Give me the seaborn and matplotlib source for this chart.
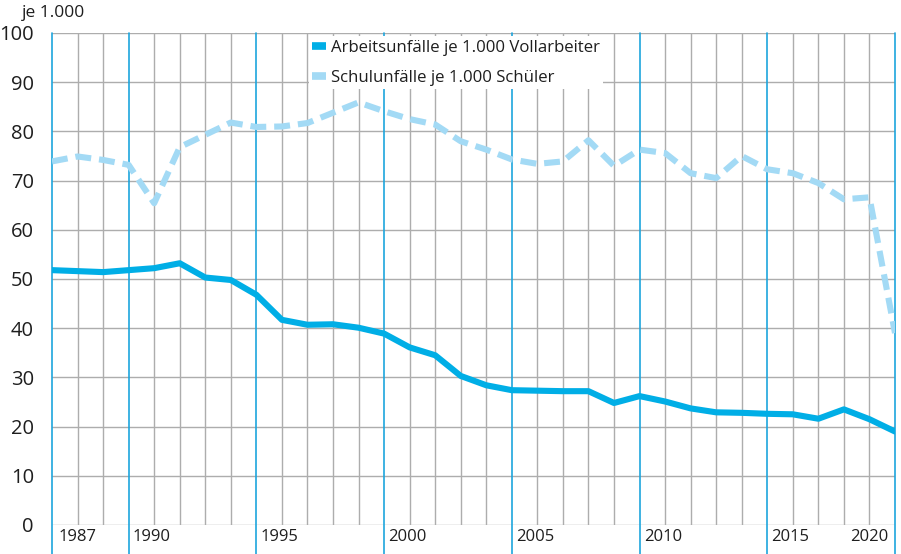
import numpy as np
import pandas as pd
import matplotlib
matplotlib.use("Agg")
import matplotlib.pyplot as plt
import matplotlib.transforms as mtransforms
from matplotlib.lines import Line2D
import seaborn as sns

# =========================
# 1. DATEN
# =========================
jahre = list(range(1987, 2021))
arbeitsunfaelle = [51.8, 51.6, 51.4, 51.8, 52.2, 53.2, 50.3, 49.8, 46.8, 41.7,
                   40.7, 40.8, 40.1, 38.9, 36.1, 34.5, 30.3, 28.4, 27.4, 27.3,
                   27.2, 27.2, 24.8, 26.2, 25.1, 23.7, 22.9, 22.8, 22.6, 22.5,
                   21.6, 23.5, 21.5, 19.0]
schulunfaelle = [73.9, 74.9, 74.2, 73.2, 65.4, 76.8, 79.3, 81.8, 80.9, 81.0,
                 81.7, 83.8, 85.9, 84.1, 82.5, 81.4, 78.0, 76.3, 74.3, 73.4,
                 73.9, 78.2, 73.0, 76.3, 75.6, 71.5, 70.5, 75.0, 72.3, 71.5,
                 69.5, 66.2, 66.6, 39.0]
serien = ["Arbeitsunfälle je 1.000 Vollarbeiter", "Schulunfälle je 1.000 Schüler"]
x_labels = ["1987", "1990", "1995", "2000", "2005", "2010", "2015", "2020"]
y_ticks = list(range(0, 101, 10))

FARBE_ARBEIT = "#00aee6"
FARBE_SCHUL = "#a3daf5"
FARBE_BLAU = "#1ea5dd"
FARBE_GRAU = "#adadad"
FARBE_TEXT = "#1e1e1e"

df = pd.DataFrame({
    "Jahr": jahre * 2,
    "Wert": arbeitsunfaelle + schulunfaelle,
    "Serie": [serien[0]] * len(jahre) + [serien[1]] * len(jahre),
})

# =========================
# 2. PLOT
# =========================
sns.set_style("white")
plt.rcParams["font.family"] = ["Open Sans", "DejaVu Sans"]

fig = plt.figure(figsize=(9.01, 5.54), dpi=100)
ax = fig.add_axes([52 / 901, 29 / 554, 843 / 901, 492 / 554])

# Gitter
ax.set_xticks(jahre, minor=True)
ax.grid(which="minor", axis="x", color=FARBE_GRAU, linewidth=1)
ax.set_yticks(y_ticks)
ax.grid(which="major", axis="y", color=FARBE_GRAU, linewidth=1)
ax.set_axisbelow(True)

haupt_jahre = [int(j) for j in x_labels]
for j in haupt_jahre:
    ax.axvline(j, ymin=-29 / 492, ymax=1, color=FARBE_BLAU, linewidth=1.2,
               clip_on=False, zorder=1)

sns.lineplot(
    data=df, x="Jahr", y="Wert", hue="Serie", style="Serie",
    palette={serien[0]: FARBE_ARBEIT, serien[1]: FARBE_SCHUL},
    dashes={serien[0]: "", serien[1]: (2.6, 1.3)},
    linewidth=4.4, ax=ax, legend=False, zorder=3,
)

ax.set_xlim(1987, 2020)
ax.set_ylim(0, 100)
ax.set_xlabel("")
ax.set_ylabel("")
for s in ax.spines.values():
    s.set_visible(False)

# Achsenbeschriftung
ax.set_xticks(haupt_jahre)
ax.set_xticklabels(x_labels, fontsize=12, color=FARBE_TEXT)
ax.tick_params(axis="x", which="both", length=0, pad=3)
ax.tick_params(axis="y", length=0, pad=13, labelsize=14.5, labelcolor=FARBE_TEXT)

labels = ax.get_xticklabels()
for i, lab in enumerate(labels):
    if i == len(labels) - 1:
        lab.set_ha("right")
        off = mtransforms.ScaledTranslation(-5 / 72, 0, fig.dpi_scale_trans)
    elif i == 0:
        lab.set_ha("left")
        off = mtransforms.ScaledTranslation(5 / 72, 0, fig.dpi_scale_trans)
    else:
        lab.set_ha("left")
        off = mtransforms.ScaledTranslation(3 / 72, 0, fig.dpi_scale_trans)
    lab.set_transform(lab.get_transform() + off)

fig.text(22 / 901, 1 - 13 / 554, "je 1.000", fontsize=12.5, color=FARBE_TEXT,
         va="center", ha="left")

# Legende
handles = [Line2D([0], [0], color=FARBE_ARBEIT, linewidth=5.5, solid_capstyle="butt"),
           Line2D([0], [0], color=FARBE_SCHUL, linewidth=5.5, solid_capstyle="butt")]
leg = ax.legend(handles, serien, loc="upper left", bbox_to_anchor=(0.305, 0.993),
                fontsize=12.1, frameon=True, facecolor="white", edgecolor="none",
                framealpha=1, fancybox=False, handlelength=0.8, handletextpad=0.3,
                labelspacing=0.85, borderpad=0.2, borderaxespad=0)
for t in leg.get_texts():
    t.set_color(FARBE_TEXT)

plt.savefig("out.png", dpi=100)
